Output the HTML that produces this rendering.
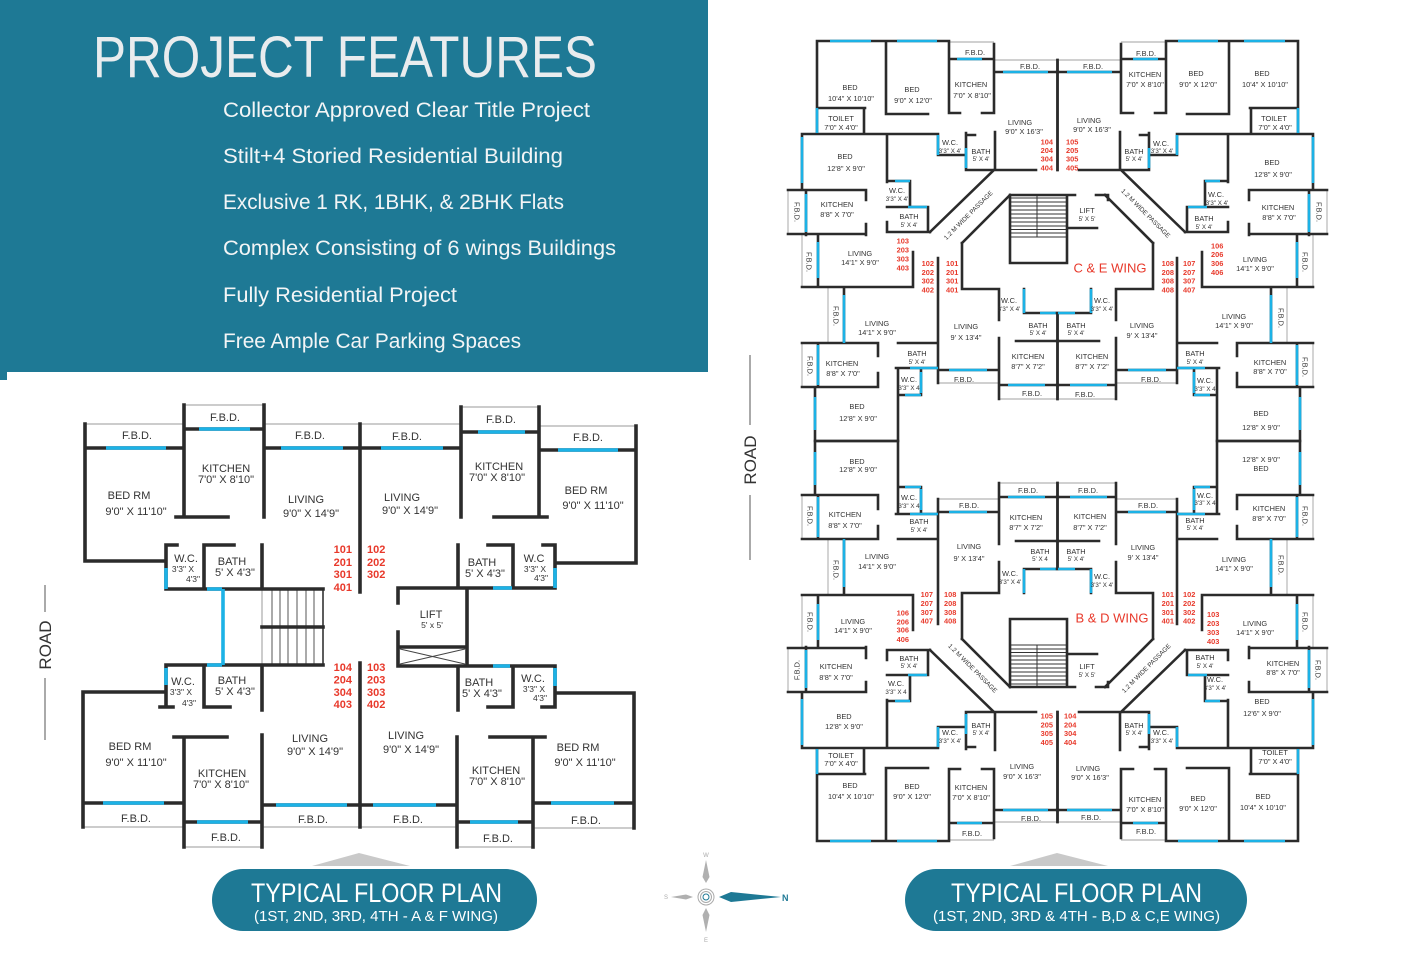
<!DOCTYPE html>
<html><head><meta charset="utf-8"><style>
html,body{margin:0;padding:0;background:#fff;}
svg{display:block;}
text{font-family:"Liberation Sans",Arial,sans-serif;}
.w{stroke:#2b2b2b;stroke-width:3.6;fill:none;stroke-linecap:square;}
.b{stroke:#1cb2e6;stroke-width:3.6;fill:none;}
.t{stroke:#9a9a9a;stroke-width:1;fill:none;}
.w2{stroke:#2b2b2b;stroke-width:2.6;fill:none;stroke-linecap:square;}
.b2{stroke:#1cb2e6;stroke-width:2.6;fill:none;}
.t2{stroke:#a0a0a0;stroke-width:0.9;fill:none;}
.l{font-size:11px;fill:#333;text-anchor:middle;}
.ls{font-size:8.5px;fill:#333;text-anchor:middle;}
.r{font-size:7.4px;fill:#333;text-anchor:middle;}
.rs{font-size:6.2px;fill:#333;text-anchor:middle;}
.n{font-size:11px;font-weight:bold;fill:#e8392b;}
.n2{font-size:7.4px;font-weight:bold;fill:#e8392b;}
.pa{font-size:6.4px;fill:#333;text-anchor:middle;}
</style></head><body>
<svg width="1412" height="972" viewBox="0 0 1412 972" xmlns="http://www.w3.org/2000/svg">
<rect x="0" y="0" width="1412" height="972" fill="#fff"/>
<!-- HEADER -->
<rect x="0" y="0" width="708" height="372" fill="#1e7995"/>
<rect x="0" y="372" width="7" height="8" fill="#1e7995"/>
<text x="93" y="77" font-size="58" textLength="504" lengthAdjust="spacingAndGlyphs" fill="#e9ecee" style="font-family:'Liberation Sans Narrow','Liberation Sans',sans-serif">PROJECT FEATURES</text>
<g fill="#f3f5f6" font-size="21" style="font-family:'Liberation Sans Narrow','Liberation Sans',sans-serif">
<text x="223" y="117" textLength="367" lengthAdjust="spacingAndGlyphs">Collector Approved Clear Title Project</text>
<text x="223" y="163" textLength="340" lengthAdjust="spacingAndGlyphs">Stilt+4 Storied Residential Building</text>
<text x="223" y="209" textLength="341" lengthAdjust="spacingAndGlyphs">Exclusive 1 RK, 1BHK, &amp; 2BHK Flats</text>
<text x="223" y="255" textLength="393" lengthAdjust="spacingAndGlyphs">Complex Consisting of 6 wings Buildings</text>
<text x="223" y="302" textLength="234" lengthAdjust="spacingAndGlyphs">Fully Residential Project</text>
<text x="223" y="348" textLength="298" lengthAdjust="spacingAndGlyphs">Free Ample Car Parking Spaces</text>
</g>

<!-- ROAD labels -->
<g stroke="#555" stroke-width="1">
<line x1="45" y1="585" x2="45" y2="612"/><line x1="45" y1="678" x2="45" y2="740"/>
<line x1="750" y1="355" x2="750" y2="425"/><line x1="750" y1="495" x2="750" y2="560"/>
</g>
<text x="0" y="0" font-size="17" fill="#333" text-anchor="middle" transform="translate(51,645) rotate(-90)">ROAD</text>
<text x="0" y="0" font-size="17" fill="#333" text-anchor="middle" transform="translate(756,460) rotate(-90)">ROAD</text>

<!-- LEFT PLAN -->
<path class="t" d="M85,424H184 M184,405H264 M264,424H461 M461,407H539 M539,426H636 M83,827H184 M184,847H262 M262,827H457 M457,847H533 M533,828H634 M262,589V665"/>
<path d="M272,589V665 M280,589V665 M288,589V665 M297,589V665 M306,589V665 M314,589V665" stroke="#555" stroke-width="1" fill="none"/>
<path d="M323,589V665" stroke="#333" stroke-width="1.6" fill="none"/>
<path d="M400,649L465,664 M400,664L465,649" stroke="#444" stroke-width="1" fill="none"/>
<path class="w" d="M85,424V561H166 M85,448H184 M184,405V517 M176,517H228 M184,429H264 M264,405V517 M264,448H360 M360,424V592 M360,448H461 M461,407V517 M461,432H539 M539,407V517 M494,517H547 M539,450H636 M636,426V563 M556,563H636
M166,545V589 M166,545H177 M204,545V589 M204,545H234 M262,545V589 M166,589H323
M166,665H323 M262,627H323 M166,665V707 M160,707H173 M204,665V707 M204,707H230 M262,665V710
M458,545V588 M488,545H513 M513,545V588 M543,545H555 M555,545V588 M458,588H555
M398,588H467 M398,588V603 M398,632V666 M467,588V666 M398,647H467 M398,666H555
M458,666V710 M488,707H513 M513,666V707 M555,666V707 M542,707H555 M555,693H634
M83,692H166 M83,692V827 M83,803H184 M174,737H227 M184,737V847 M184,822H262 M262,735V847 M262,805H360 M360,663V827 M360,805H457 M457,737V847 M457,822H533 M533,737V847 M490,737H545 M533,803H634 M634,693V828"/>
<path class="b" d="M106,448H166 M199,429H250 M281,448H343 M381,448H443 M478,432H525 M558,450H618 M166,568V589 M207,589H222 M223,589V665 M207,665H222 M493,588H512 M555,568V588 M493,666H510 M555,668V686 M166,668V685 M103,803H164 M197,822H248 M276,805H347 M373,805H436 M470,822H518 M551,803H614"/>
<g>
<text class="l" x="137" y="439">F.B.D.</text><text class="l" x="225" y="421">F.B.D.</text><text class="l" x="310" y="439">F.B.D.</text><text class="l" x="407" y="440">F.B.D.</text><text class="l" x="501" y="423">F.B.D.</text><text class="l" x="588" y="441">F.B.D.</text>
<text class="l" x="226" y="472">KITCHEN</text><text class="l" x="226" y="483">7'0" X 8'10"</text>
<text class="l" x="129" y="499">BED RM</text><text class="l" x="136" y="515">9'0" X 11'10"</text>
<text class="l" x="306" y="503">LIVING</text><text class="l" x="311" y="517">9'0" X 14'9"</text>
<text class="l" x="402" y="501">LIVING</text><text class="l" x="410" y="514">9'0" X 14'9"</text>
<text class="l" x="499" y="470">KITCHEN</text><text class="l" x="497" y="481">7'0" X 8'10"</text>
<text class="l" x="586" y="494">BED RM</text><text class="l" x="593" y="509">9'0" X 11'10"</text>
<text class="l" x="186" y="562">W.C.</text><text class="ls" x="183" y="572">3'3" X</text><text class="ls" x="193" y="582">4'3"</text>
<text class="l" x="232" y="565">BATH</text><text class="l" x="235" y="576">5' X 4'3"</text>
<text class="l" x="482" y="566">BATH</text><text class="l" x="485" y="577">5' X 4'3"</text>
<text class="l" x="534" y="562">W.C</text><text class="ls" x="535" y="572">3'3" X</text><text class="ls" x="541" y="581">4'3"</text>
<text class="l" x="431" y="618">LIFT</text><text class="ls" x="432" y="628">5' x 5'</text>
<text class="l" x="183" y="685">W.C.</text><text class="ls" x="181" y="695">3'3" X</text><text class="ls" x="189" y="706">4'3"</text>
<text class="l" x="232" y="684">BATH</text><text class="l" x="235" y="695">5' X 4'3"</text>
<text class="l" x="479" y="686">BATH</text><text class="l" x="482" y="697">5' X 4'3"</text>
<text class="l" x="533" y="682">W.C.</text><text class="ls" x="534" y="692">3'3" X</text><text class="ls" x="540" y="701">4'3"</text>
<text class="l" x="130" y="750">BED RM</text><text class="l" x="136" y="766">9'0" X 11'10"</text>
<text class="l" x="222" y="777">KITCHEN</text><text class="l" x="221" y="788">7'0" X 8'10"</text>
<text class="l" x="310" y="742">LIVING</text><text class="l" x="315" y="755">9'0" X 14'9"</text>
<text class="l" x="406" y="739">LIVING</text><text class="l" x="411" y="753">9'0" X 14'9"</text>
<text class="l" x="496" y="774">KITCHEN</text><text class="l" x="497" y="785">7'0" X 8'10"</text>
<text class="l" x="578" y="751">BED RM</text><text class="l" x="585" y="766">9'0" X 11'10"</text>
<text class="l" x="136" y="822">F.B.D.</text><text class="l" x="226" y="841">F.B.D.</text><text class="l" x="313" y="823">F.B.D.</text><text class="l" x="408" y="823">F.B.D.</text><text class="l" x="498" y="842">F.B.D.</text><text class="l" x="586" y="824">F.B.D.</text>
</g>
<text class="n" text-anchor="end"><tspan x="352" y="553">101</tspan><tspan x="352" y="566">201</tspan><tspan x="352" y="578">301</tspan><tspan x="352" y="591">401</tspan></text>
<text class="n"><tspan x="367" y="553">102</tspan><tspan x="367" y="566">202</tspan><tspan x="367" y="578">302</tspan></text>
<text class="n" text-anchor="end"><tspan x="352" y="671">104</tspan><tspan x="352" y="683.5">204</tspan><tspan x="352" y="696">304</tspan><tspan x="352" y="708">403</tspan></text>
<text class="n"><tspan x="367" y="671">103</tspan><tspan x="367" y="683.5">203</tspan><tspan x="367" y="696">303</tspan><tspan x="367" y="708">402</tspan></text>

<!-- RIGHT PLAN -->
<defs>
<g id="q">
<path class="t2" d="M949,42H994 M994,60H1058 M788,190V235 M802,235V287 M828,287V343 M802,343V387 M938,383H999 M999,399H1058"/>
<path class="w2" d="M817,41H949 M817,41V134 M886,41V114 M886,114H928 M817,108H865 M864,108V134 M949,41V113 M949,113H960 M982,113H994 M994,44V113 M949,59H994 M994,72H1058 M1057.5,60V170 M802,134H938 M938,134V155 M938,155H966 M966,133V170 M966,135H975 M995,132V170 M966,170H1036 M994,170L930,232 M802,134V190 M887,134V182 M887,181H910 M910,181V207 M887,207H928 M928,207V232 M887,232H930 M887,222V232 M788,190H866 M806,190V235 M866,190V200 M866,224V235 M788,234H866 M818,235V287 M802,287H913 M913,252V287 M844,289V343 M802,343H878 M818,343V387 M802,387H878 M878,343V356 M878,373V387 M898,343H938 M896,368H938 M921,368V395 M898,395H921 M898,368V441 M815,387V441 M815,441H898 M938,258V383 M938,370H999 M962,243V289 M962,289H999 M962,243L1010,195 M999,289V320 M1024,289V313 M1024,313H1058 M1016,341H1058 M999,338V399 M999,385H1058 M1057.5,313V399"/>
<path class="b2" d="M830,41H871 M897,41H937 M817,108V133 M957,59H982 M1003,72H1048 M938,135V155 M966,148V168 M802,137V183 M895,181H910 M908,207H927 M806,194V232 M818,242V278 M844,295V343 M818,345V385 M910,368H938 M921,372V393 M905,395H921 M815,397V430 M949,370H987 M1024,289V313 M1040,313H1057 M1008,385H1045"/>
</g>
<g id="st">
<path d="M1010,198H1067 M1010,202H1067 M1010,206H1067 M1010,210H1067 M1010,214H1067 M1010,218H1067 M1010,222H1067 M1010,226H1067 M1010,229.5H1067 M1010,233H1067 M1010,237H1067 M1037,195V237" stroke="#333" stroke-width="1" fill="none"/>
<path class="w2" d="M1010,195H1075 M1096,195H1108 M1010,195V263H1067V195 M1067,228H1097 M1108,195V200"/>
</g>
</defs>
<use href="#q"/>
<use href="#q" transform="matrix(-1 0 0 1 2115 0)"/>
<use href="#q" transform="matrix(1 0 0 -1 0 882)"/>
<use href="#q" transform="matrix(-1 0 0 -1 2115 882)"/>
<use href="#st"/>
<use href="#st" transform="matrix(1 0 0 -1 0 882)"/>

<g>
<!-- top units -->
<text class="r" x="850" y="90">BED</text><text class="r" x="851" y="101">10'4" X 10'10"</text>
<text class="r" x="912" y="92">BED</text><text class="r" x="913" y="103">9'0" X 12'0"</text>
<text class="r" x="841" y="121">TOILET</text><text class="r" x="841" y="130">7'0" X 4'0"</text>
<text class="r" x="975" y="55">F.B.D.</text>
<text class="r" x="971" y="87">KITCHEN</text><text class="r" x="972" y="98">7'0" X 8'10"</text>
<text class="r" x="1030" y="69">F.B.D.</text><text class="r" x="1093" y="69">F.B.D.</text>
<text class="r" x="1020" y="125">LIVING</text><text class="r" x="1024" y="134">9'0" X 16'3"</text>
<text class="r" x="1089" y="123">LIVING</text><text class="r" x="1092" y="132">9'0" X 16'3"</text>
<text class="r" x="950" y="145">W.C.</text><text class="rs" x="950" y="153">3'3" X 4'</text>
<text class="r" x="981" y="154">BATH</text><text class="rs" x="981" y="161">5' X 4'</text>
<text class="r" x="1134" y="154">BATH</text><text class="rs" x="1134" y="161">5' X 4'</text>
<text class="r" x="1161" y="146">W.C.</text><text class="rs" x="1162" y="153">3'3" X 4'</text>
<text class="r" x="1145" y="77">KITCHEN</text><text class="r" x="1145" y="87">7'0" X 8'10"</text>
<text class="r" x="1196" y="76">BED</text><text class="r" x="1198" y="87">9'0" X 12'0"</text>
<text class="r" x="1262" y="76">BED</text><text class="r" x="1265" y="87">10'4" X 10'10"</text>
<text class="r" x="1274" y="121">TOILET</text><text class="r" x="1275" y="130">7'0" X 4'0"</text>
<text class="r" x="1146" y="56">F.B.D.</text>
<!-- C&E wings -->
<text class="r" x="845" y="159">BED</text><text class="r" x="846" y="171">12'8" X 9'0"</text>
<text class="r" x="897" y="193">W.C.</text><text class="rs" x="897" y="201">3'3" X 4'</text>
<text class="r" x="909" y="219">BATH</text><text class="rs" x="909" y="227">5' X 4'</text>
<text class="r" x="837" y="207">KITCHEN</text><text class="r" x="837" y="217">8'8" X 7'0"</text>
<text class="r" transform="translate(797,212) rotate(90)" x="0" y="2.5">F.B.D.</text>
<text class="pa" transform="translate(968,215) rotate(-45)" x="0" y="2.5">1.2 M WIDE PASSAGE</text>
<text class="pa" transform="translate(1146,213) rotate(45)" x="0" y="2.5">1.2 M WIDE PASSAGE</text>
<text class="r" x="1087" y="213">LIFT</text><text class="rs" x="1087" y="221">5' X 5'</text>
<text x="1110" y="272.5" font-size="13" fill="#e8392b" text-anchor="middle">C &amp; E WING</text>
<text class="r" x="860" y="256">LIVING</text><text class="r" x="860" y="265">14'1" X 9'0"</text>
<text class="r" transform="translate(809,262) rotate(90)" x="0" y="2.5">F.B.D.</text>
<text class="r" x="1255" y="262">LIVING</text><text class="r" x="1255" y="271">14'1" X 9'0"</text>
<text class="r" transform="translate(1305,262) rotate(90)" x="0" y="2.5">F.B.D.</text>
<text class="r" x="1272" y="165">BED</text><text class="r" x="1273" y="177">12'8" X 9'0"</text>
<text class="r" x="1216" y="197">W.C.</text><text class="rs" x="1217" y="205">3'3" X 4'</text>
<text class="r" x="1204" y="221">BATH</text><text class="rs" x="1204" y="229">5' X 4'</text>
<text class="r" x="1278" y="210">KITCHEN</text><text class="r" x="1279" y="220">8'8" X 7'0"</text>
<text class="r" transform="translate(1319,212) rotate(90)" x="0" y="2.5">F.B.D.</text>
<text class="r" transform="translate(836,316) rotate(90)" x="0" y="2.5">F.B.D.</text>
<text class="r" x="877" y="326">LIVING</text><text class="r" x="877" y="335">14'1" X 9'0"</text>
<text class="r" x="966" y="329">LIVING</text><text class="r" x="966" y="340">9' X 13'4"</text>
<text class="r" x="1009" y="303">W.C.</text><text class="rs" x="1009" y="311">3'3" X 4'</text>
<text class="r" x="1038" y="328">BATH</text><text class="rs" x="1038" y="335">5' X 4'</text>
<text class="r" x="1076" y="328">BATH</text><text class="rs" x="1076" y="335">5' X 4'</text>
<text class="r" x="1102" y="303">W.C.</text><text class="rs" x="1102" y="311">3'3" X 4'</text>
<text class="r" x="1142" y="328">LIVING</text><text class="r" x="1142" y="338">9' X 13'4"</text>
<text class="r" x="1028" y="359">KITCHEN</text><text class="r" x="1028" y="369">8'7" X 7'2"</text>
<text class="r" x="1092" y="359">KITCHEN</text><text class="r" x="1092" y="369">8'7" X 7'2"</text>
<text class="r" x="964" y="382">F.B.D.</text><text class="r" x="1032" y="396">F.B.D.</text><text class="r" x="1085" y="397">F.B.D.</text><text class="r" x="1151" y="382">F.B.D.</text>
<text class="r" x="842" y="366">KITCHEN</text><text class="r" x="843" y="376">8'8" X 7'0"</text>
<text class="r" transform="translate(810,366) rotate(90)" x="0" y="2.5">F.B.D.</text>
<text class="r" x="917" y="356">BATH</text><text class="rs" x="917" y="364">5' X 4'</text>
<text class="r" x="909" y="382">W.C.</text><text class="rs" x="909" y="390">3'3" X 4</text>
<text class="r" x="857" y="409">BED</text><text class="r" x="858" y="421">12'8" X 9'0"</text>
<text class="r" transform="translate(1281,318) rotate(90)" x="0" y="2.5">F.B.D.</text>
<text class="r" x="1234" y="319">LIVING</text><text class="r" x="1234" y="328">14'1" X 9'0"</text>
<text class="r" x="1270" y="365">KITCHEN</text><text class="r" x="1270" y="374">8'8" X 7'0"</text>
<text class="r" transform="translate(1305,367) rotate(90)" x="0" y="2.5">F.B.D.</text>
<text class="r" x="1195" y="356">BATH</text><text class="rs" x="1195" y="364">5' X 4'</text>
<text class="r" x="1205" y="383">W.C.</text><text class="rs" x="1205" y="391">3'3" X 4</text>
<text class="r" x="1261" y="416">BED</text><text class="r" x="1261" y="430">12'8" X 9'0"</text>
<!-- B&D -->
<text class="r" x="857" y="464">BED</text><text class="r" x="858" y="472">12'8" X 9'0"</text>
<text class="r" x="909" y="500">W.C.</text><text class="rs" x="909" y="508">3'3" X 4</text>
<text class="r" x="919" y="524">BATH</text><text class="rs" x="919" y="532">5' X 4'</text>
<text class="r" x="845" y="517">KITCHEN</text><text class="r" x="845" y="528">8'8" X 7'0"</text>
<text class="r" transform="translate(810,516) rotate(90)" x="0" y="2.5">F.B.D.</text>
<text class="r" transform="translate(836,570) rotate(90)" x="0" y="2.5">F.B.D.</text>
<text class="r" x="877" y="559">LIVING</text><text class="r" x="877" y="569">14'1" X 9'0"</text>
<text class="r" transform="translate(810,622) rotate(90)" x="0" y="2.5">F.B.D.</text>
<text class="r" x="853" y="624">LIVING</text><text class="r" x="853" y="633">14'1" X 9'0"</text>
<text class="r" x="969" y="508">F.B.D.</text>
<text class="r" x="969" y="549">LIVING</text><text class="r" x="969" y="561">9' X 13'4"</text>
<text class="r" x="1028" y="493">F.B.D.</text><text class="r" x="1088" y="493">F.B.D.</text>
<text class="r" x="1026" y="520">KITCHEN</text><text class="r" x="1026" y="530">8'7" X 7'2"</text>
<text class="r" x="1090" y="519">KITCHEN</text><text class="r" x="1090" y="530">8'7" X 7'2"</text>
<text class="r" x="1040" y="554">BATH</text><text class="rs" x="1040" y="561">5' X 4</text>
<text class="r" x="1076" y="554">BATH</text><text class="rs" x="1076" y="561">5' X 4'</text>
<text class="r" x="1010" y="576">W.C.</text><text class="rs" x="1010" y="584">3'3" X 4'</text>
<text class="r" x="1102" y="579">W.C.</text><text class="rs" x="1102" y="587">3'3" X 4'</text>
<text x="1112" y="622.5" font-size="13" fill="#e8392b" text-anchor="middle">B &amp; D WING</text>
<text class="r" x="1148" y="508">F.B.D.</text>
<text class="r" x="1143" y="550">LIVING</text><text class="r" x="1143" y="560">9' X 13'4"</text>
<text class="r" x="1195" y="523">BATH</text><text class="rs" x="1195" y="530">5' X 4'</text>
<text class="r" x="1205" y="498">W.C.</text><text class="rs" x="1205" y="505">3'3" X 4</text>
<text class="r" x="1261" y="462">12'8" X 9'0"</text><text class="r" x="1261" y="471">BED</text>
<text class="r" x="1269" y="511">KITCHEN</text><text class="r" x="1269" y="521">8'8" X 7'0"</text>
<text class="r" transform="translate(1305,516) rotate(90)" x="0" y="2.5">F.B.D.</text>
<text class="r" transform="translate(1281,565) rotate(90)" x="0" y="2.5">F.B.D.</text>
<text class="r" x="1234" y="562">LIVING</text><text class="r" x="1234" y="571">14'1" X 9'0"</text>
<text class="r" transform="translate(1305,622) rotate(90)" x="0" y="2.5">F.B.D.</text>
<text class="r" x="1255" y="626">LIVING</text><text class="r" x="1255" y="635">14'1" X 9'0"</text>
<text class="r" x="1087" y="669">LIFT</text><text class="rs" x="1087" y="677">5' X 5'</text>
<text class="pa" transform="translate(973,668) rotate(45)" x="0" y="2.5">1.2 M WIDE PASSAGE</text>
<text class="pa" transform="translate(1146,668) rotate(-45)" x="0" y="2.5">1.2 M WIDE PASSAGE</text>
<!-- bottom units -->
<text class="r" x="836" y="669">KITCHEN</text><text class="r" x="836" y="680">8'8" X 7'0"</text>
<text class="r" transform="translate(797,670) rotate(-90)" x="0" y="2.5">F.B.D.</text>
<text class="r" x="909" y="661">BATH</text><text class="rs" x="909" y="668">5' X 4'</text>
<text class="r" x="896" y="686">W.C.</text><text class="rs" x="896" y="694">3'3" X 4</text>
<text class="r" x="844" y="719">BED</text><text class="r" x="844" y="729">12'8" X 9'0"</text>
<text class="r" x="841" y="758">TOILET</text><text class="r" x="841" y="766">7'0" X 4'0"</text>
<text class="r" x="850" y="788">BED</text><text class="r" x="851" y="799">10'4" X 10'10"</text>
<text class="r" x="912" y="789">BED</text><text class="r" x="912" y="799">9'0" X 12'0"</text>
<text class="r" x="971" y="790">KITCHEN</text><text class="r" x="971" y="800">7'0" X 8'10"</text>
<text class="r" x="972" y="836">F.B.D.</text>
<text class="r" x="950" y="735">W.C.</text><text class="rs" x="950" y="743">3'3" X 4'</text>
<text class="r" x="981" y="728">BATH</text><text class="rs" x="981" y="735">5' X 4'</text>
<text class="r" x="1022" y="769">LIVING</text><text class="r" x="1022" y="779">9'0" X 16'3"</text>
<text class="r" x="1088" y="771">LIVING</text><text class="r" x="1090" y="780">9'0" X 16'3"</text>
<text class="r" x="1031" y="821">F.B.D.</text><text class="r" x="1091" y="820">F.B.D.</text>
<text class="r" x="1145" y="802">KITCHEN</text><text class="r" x="1145" y="812">7'0" X 8'10"</text>
<text class="r" x="1146" y="834">F.B.D.</text>
<text class="r" x="1198" y="801">BED</text><text class="r" x="1198" y="811">9'0" X 12'0"</text>
<text class="r" x="1263" y="799">BED</text><text class="r" x="1263" y="810">10'4" X 10'10"</text>
<text class="r" x="1275" y="755">TOILET</text><text class="r" x="1275" y="764">7'0" X 4'0"</text>
<text class="r" x="1134" y="728">BATH</text><text class="rs" x="1134" y="735">5' X 4'</text>
<text class="r" x="1161" y="735">W.C.</text><text class="rs" x="1162" y="743">3'3" X 4'</text>
<text class="r" x="1205" y="660">BATH</text><text class="rs" x="1205" y="668">5' X 4'</text>
<text class="r" x="1215" y="682">W.C.</text><text class="rs" x="1215" y="690">3'3" X 4'</text>
<text class="r" x="1283" y="666">KITCHEN</text><text class="r" x="1283" y="675">8'8" X 7'0"</text>
<text class="r" transform="translate(1318,670) rotate(90)" x="0" y="2.5">F.B.D.</text>
<text class="r" x="1262" y="704">BED</text><text class="r" x="1262" y="716">12'6" X 9'0"</text>
</g>
<!-- right plan unit numbers -->
<g class="n2">
<text text-anchor="end"><tspan x="1053" y="144.4">104</tspan><tspan x="1053" y="153">204</tspan><tspan x="1053" y="161.7">304</tspan><tspan x="1053" y="170.4">404</tspan></text>
<text><tspan x="1066" y="144.4">105</tspan><tspan x="1066" y="153">205</tspan><tspan x="1066" y="161.7">305</tspan><tspan x="1066" y="170.4">405</tspan></text>
<text text-anchor="end"><tspan x="909" y="243.7">103</tspan><tspan x="909" y="252.7">203</tspan><tspan x="909" y="261.7">303</tspan><tspan x="909" y="270.4">403</tspan></text>
<text text-anchor="end"><tspan x="934" y="266">102</tspan><tspan x="934" y="275">202</tspan><tspan x="934" y="283.7">302</tspan><tspan x="934" y="292.7">402</tspan></text>
<text><tspan x="946" y="266">101</tspan><tspan x="946" y="275">201</tspan><tspan x="946" y="283.7">301</tspan><tspan x="946" y="292.7">401</tspan></text>
<text text-anchor="end"><tspan x="1174" y="266">108</tspan><tspan x="1174" y="275">208</tspan><tspan x="1174" y="283.7">308</tspan><tspan x="1174" y="292.7">408</tspan></text>
<text><tspan x="1183" y="266">107</tspan><tspan x="1183" y="275">207</tspan><tspan x="1183" y="283.7">307</tspan><tspan x="1183" y="292.7">407</tspan></text>
<text><tspan x="1211" y="248.4">106</tspan><tspan x="1211" y="257">206</tspan><tspan x="1211" y="266">306</tspan><tspan x="1211" y="275">406</tspan></text>
<text text-anchor="end"><tspan x="933" y="597">107</tspan><tspan x="933" y="606">207</tspan><tspan x="933" y="615">307</tspan><tspan x="933" y="623.7">407</tspan></text>
<text><tspan x="944" y="597">108</tspan><tspan x="944" y="606">208</tspan><tspan x="944" y="615">308</tspan><tspan x="944" y="623.7">408</tspan></text>
<text text-anchor="end"><tspan x="909" y="615.4">106</tspan><tspan x="909" y="624.4">206</tspan><tspan x="909" y="632.7">306</tspan><tspan x="909" y="642">406</tspan></text>
<text text-anchor="end"><tspan x="1174" y="597">101</tspan><tspan x="1174" y="606">201</tspan><tspan x="1174" y="615">301</tspan><tspan x="1174" y="623.7">401</tspan></text>
<text><tspan x="1183" y="597">102</tspan><tspan x="1183" y="606">202</tspan><tspan x="1183" y="615">302</tspan><tspan x="1183" y="623.7">402</tspan></text>
<text><tspan x="1207" y="617">103</tspan><tspan x="1207" y="626">203</tspan><tspan x="1207" y="635">303</tspan><tspan x="1207" y="644">403</tspan></text>
<text text-anchor="end"><tspan x="1053" y="718.4">105</tspan><tspan x="1053" y="727.4">205</tspan><tspan x="1053" y="736">305</tspan><tspan x="1053" y="745">405</tspan></text>
<text><tspan x="1064" y="718.4">104</tspan><tspan x="1064" y="727.4">204</tspan><tspan x="1064" y="736">304</tspan><tspan x="1064" y="745">404</tspan></text>
</g>

<!-- BADGES -->
<polygon points="359,853 312,866 410,866" fill="#c9c9c9"/>
<polygon points="1057,853 1010,866 1108,866" fill="#c9c9c9"/>
<rect x="212" y="869" width="325" height="62" rx="31" ry="31" fill="#1e7995"/>
<rect x="905" y="869" width="342" height="62" rx="31" ry="31" fill="#1e7995"/>
<g fill="#fff" text-anchor="start" style="font-family:'Liberation Sans Narrow','Liberation Sans',sans-serif">
<text x="251" y="902" font-size="27" textLength="251" lengthAdjust="spacingAndGlyphs">TYPICAL FLOOR PLAN</text>
<text x="254" y="921" font-size="14.5" textLength="244" lengthAdjust="spacingAndGlyphs">(1ST, 2ND, 3RD, 4TH - A &amp; F WING)</text>
<text x="951" y="902" font-size="27" textLength="251" lengthAdjust="spacingAndGlyphs">TYPICAL FLOOR PLAN</text>
<text x="933" y="921" font-size="14.5" textLength="287" lengthAdjust="spacingAndGlyphs">(1ST, 2ND, 3RD &amp; 4TH - B,D &amp; C,E WING)</text>
</g>

<!-- COMPASS -->
<g>
<circle cx="706" cy="897" r="8" fill="none" stroke="#aaa" stroke-width="1"/>
<circle cx="706" cy="897" r="5.5" fill="none" stroke="#aaa" stroke-width="1"/>
<circle cx="706" cy="897" r="3" fill="none" stroke="#1e7995" stroke-width="1"/>
<polygon points="719,897 731,892 781,897 731,902" fill="#1e7995"/>
<text x="782" y="901" font-size="9" font-weight="bold" fill="#1e7995">N</text>
<polygon points="706,860 709.5,877 706,883 702.5,877" fill="#b0b0b0"/>
<polygon points="706,932 709.5,915 706,908 702.5,915" fill="#b0b0b0"/>
<polygon points="671,897 686,894.5 693,897 686,899.5" fill="#b0b0b0"/>
<text x="706" y="857" font-size="6" fill="#aaa" text-anchor="middle">W</text>
<text x="706" y="942" font-size="6" fill="#aaa" text-anchor="middle">E</text>
<text x="666" y="899" font-size="6" fill="#aaa" text-anchor="middle">S</text>
</g>
</svg>
</body></html>
